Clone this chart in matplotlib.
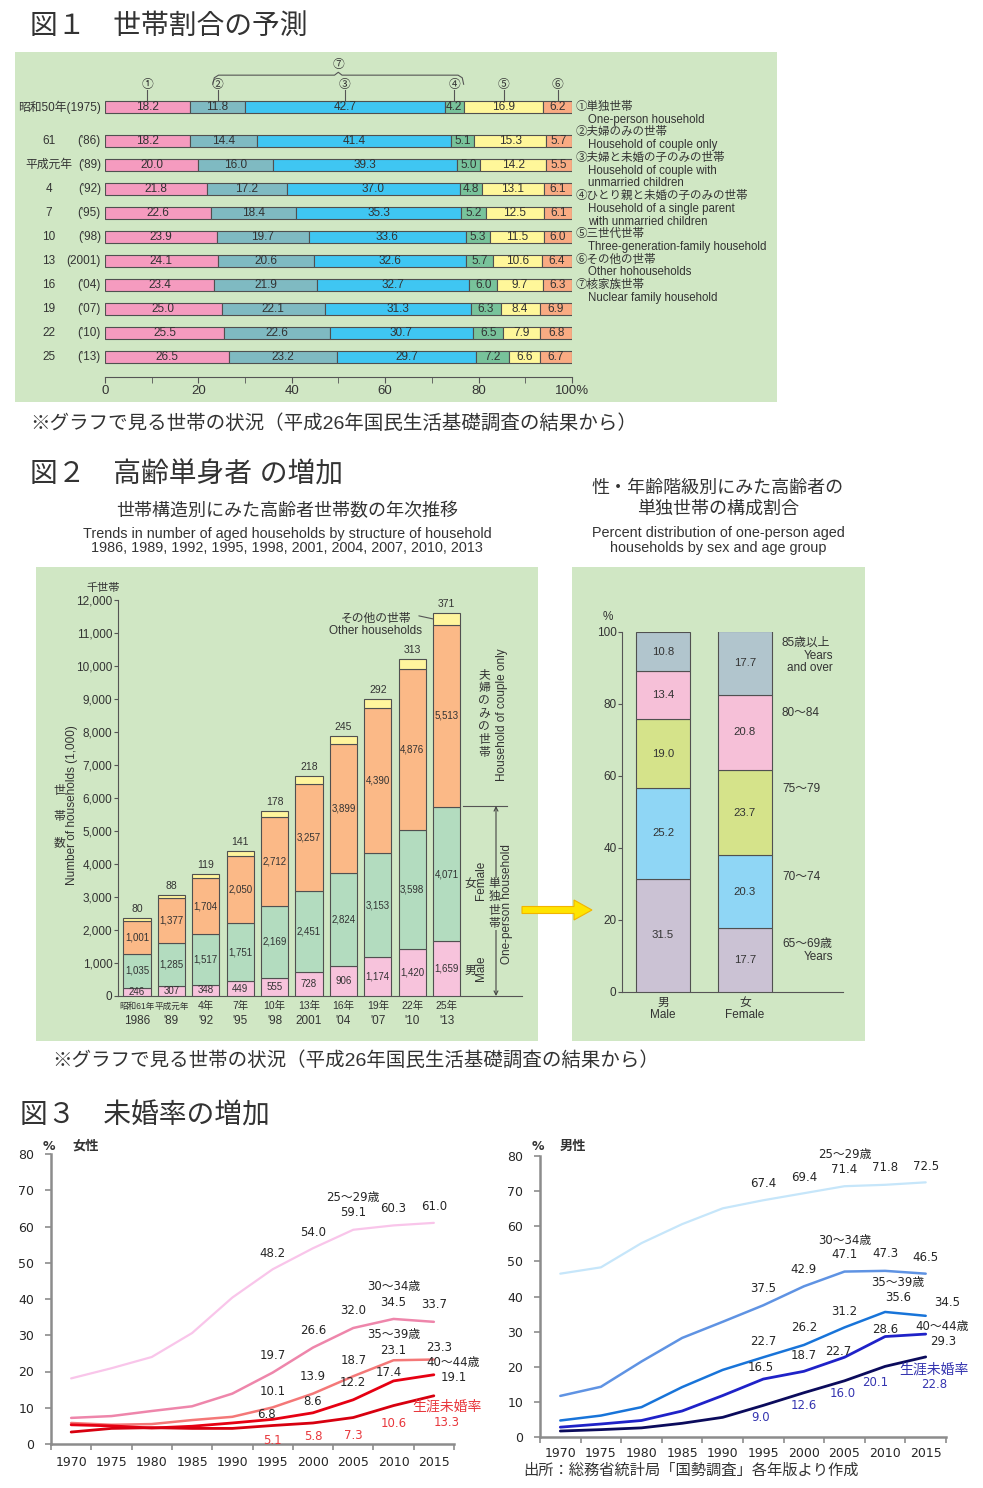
import matplotlib
matplotlib.use('Agg')
import matplotlib.pyplot as plt
import numpy as np
from matplotlib.patches import Rectangle, FancyArrow

plt.rcParams['font.family'] = ['Liberation Sans', 'Noto Sans CJK JP']
plt.rcParams['axes.unicode_minus'] = False

# ===================== DATA =====================
# Fig.1  household composition (%)
f1_era = ['昭和50年', '61', '平成元年', '4', '7', '10', '13', '16', '19', '22', '25']
f1_year = ['(1975)', "('86)", "('89)", "('92)", "('95)", "('98)", '(2001)', "('04)", "('07)", "('10)", "('13)"]
f1_one_person = [18.2, 18.2, 20.0, 21.8, 22.6, 23.9, 24.1, 23.4, 25.0, 25.5, 26.5]
f1_couple_only = [11.8, 14.4, 16.0, 17.2, 18.4, 19.7, 20.6, 21.9, 22.1, 22.6, 23.2]
f1_couple_children = [42.7, 41.4, 39.3, 37.0, 35.3, 33.6, 32.6, 32.7, 31.3, 30.7, 29.7]
f1_single_parent = [4.2, 5.1, 5.0, 4.8, 5.2, 5.3, 5.7, 6.0, 6.3, 6.5, 7.2]
f1_three_gen = [16.9, 15.3, 14.2, 13.1, 12.5, 11.5, 10.6, 9.7, 8.4, 7.9, 6.6]
f1_other = [6.2, 5.7, 5.5, 6.1, 6.1, 6.0, 6.4, 6.3, 6.9, 6.8, 6.7]
f1_marks = ['①', '②', '③', '④', '⑤', '⑥']
f1_legend = ['①単独世帯', 'One-person household',
             '②夫婦のみの世帯', 'Household of couple only',
             '③夫婦と未婚の子のみの世帯', 'Household of couple with', 'unmarried children',
             '④ひとり親と未婚の子のみの世帯', 'Household of a single parent', 'with unmarried children',
             '⑤三世代世帯', 'Three-generation-family household',
             '⑥その他の世帯', 'Other hohouseholds',
             '⑦核家族世帯', 'Nuclear family household']
f1_ticks = [0, 20, 40, 60, 80, 100]
f1_ticklabels = ['0', '20', '40', '60', '80', '100%']

# Fig.2 left  aged households (1,000)
f2_era = ['昭和61年', '平成元年', '4年', '7年', '10年', '13年', '16年', '19年', '22年', '25年']
f2_year = ['1986', "'89", "'92", "'95", "'98", '2001', "'04", "'07", "'10", "'13"]
f2_male = [246, 307, 348, 449, 555, 728, 906, 1174, 1420, 1659]
f2_female = [1035, 1285, 1517, 1751, 2169, 2451, 2824, 3153, 3598, 4071]
f2_couple = [1001, 1377, 1704, 2050, 2712, 3257, 3899, 4390, 4876, 5513]
f2_other = [80, 88, 119, 141, 178, 218, 245, 292, 313, 371]

# Fig.2 right  one-person aged households by sex & age (%)
f2r_sex_jp = ['男', '女']
f2r_sex_en = ['Male', 'Female']
f2r_male = [31.5, 25.2, 19.0, 13.4, 10.8]
f2r_female = [17.7, 20.3, 23.7, 20.8, 17.7]

# Fig.3  unmarried rates (%)
f3_years = [1970, 1975, 1980, 1985, 1990, 1995, 2000, 2005, 2010, 2015]
f3_groups = ['25〜29歳', '30〜34歳', '35〜39歳', '40〜44歳', '生涯未婚率']
f3_f_2529 = [18.1, 20.9, 24.0, 30.6, 40.4, 48.2, 54.0, 59.1, 60.3, 61.0]
f3_f_3034 = [7.2, 7.7, 9.1, 10.4, 13.9, 19.7, 26.6, 32.0, 34.5, 33.7]
f3_f_3539 = [5.8, 5.3, 5.5, 6.6, 7.5, 10.1, 13.9, 18.7, 23.1, 23.3]
f3_f_4044 = [5.3, 5.0, 4.4, 4.9, 5.8, 6.8, 8.6, 12.2, 17.4, 19.1]
f3_f_life = [3.3, 4.3, 4.5, 4.3, 4.3, 5.1, 5.8, 7.3, 10.6, 13.3]
f3_m_2529 = [46.5, 48.3, 55.2, 60.6, 65.1, 67.4, 69.4, 71.4, 71.8, 72.5]
f3_m_3034 = [11.7, 14.3, 21.5, 28.2, 32.8, 37.5, 42.9, 47.1, 47.3, 46.5]
f3_m_3539 = [4.7, 6.1, 8.5, 14.2, 19.1, 22.7, 26.2, 31.2, 35.6, 34.5]
f3_m_4044 = [2.8, 3.7, 4.7, 7.4, 11.8, 16.5, 18.7, 22.7, 28.6, 29.3]
f3_m_life = [1.7, 2.1, 2.6, 3.9, 5.6, 9.0, 12.6, 16.0, 20.1, 22.8]

# ===================== LAYOUT / STYLE =====================
W, H = 983, 1488
TXT = '#333333'
BG = '#d0e7c4'
EDGE = '#505050'

fig = plt.figure(figsize=(W / 100, H / 100), dpi=100)
fig.patch.set_facecolor('white')
ov = fig.add_axes([0, 0, 1, 1], zorder=0)
ov.set_xlim(0, W)
ov.set_ylim(H, 0)
ov.axis('off')


def px_axes(x0, y0, x1, y1):
    ax = fig.add_axes([x0 / W, 1 - y1 / H, (x1 - x0) / W, (y1 - y0) / H], zorder=2)
    ax.set_facecolor('none')
    return ax


def T(x, y, s, **kw):
    kw.setdefault('color', TXT)
    kw.setdefault('va', 'center')
    return ov.text(x, y, s, **kw)


def ann(ax, s, xy, dx, dy, **kw):
    kw.setdefault('color', TXT)
    kw.setdefault('ha', 'center')
    kw.setdefault('va', 'center')
    return ax.annotate(s, xy=xy, xycoords='data', xytext=(dx, -dy),
                       textcoords='offset pixels', annotation_clip=False, **kw)


def vtext(x, y, s, **kw):
    """stacked (vertical) Japanese text"""
    return T(x, y, '\n'.join(s), ha='center', linespacing=1.12, **kw)


# ===================== FIG 1 =====================
T(30, 27, '図１　世帯割合の予測', fontsize=20)
ov.add_patch(Rectangle((15, 52), 762, 350, facecolor=BG, lw=0))
ax1 = px_axes(105, 55, 572, 377)
rows = np.array([0] + [1.42 + i for i in range(10)])
ax1.set_xlim(0, 100)
ax1.set_ylim(11.25, -2.17)
f1_colors = ['#f59bbf', '#7fbac2', '#3fc6f2', '#78c39b', '#fff79a', '#f9ab83']
series1 = [f1_one_person, f1_couple_only, f1_couple_children, f1_single_parent, f1_three_gen, f1_other]
left = np.zeros(len(rows))
centers0 = []
for vals, col in zip(series1, f1_colors):
    vals = np.array(vals)
    ax1.barh(rows, vals, left=left, height=0.5, color=col, edgecolor=EDGE, lw=0.8, zorder=3)
    for r, l, v in zip(rows, left, vals):
        ax1.text(l + v / 2, r, f'{v:.1f}', ha='center', va='center', fontsize=8.5, color=TXT, zorder=4)
    centers0.append(left[0] + vals[0] / 2)
    left = left + vals
for c, m in zip(centers0, f1_marks):
    ax1.text(c, -0.92, m, ha='center', va='center', fontsize=8.5, color=TXT)
    ax1.plot([c, c], [-0.7, -0.25], color='#555555', lw=0.8)
xa, xb = centers0[1] - 1.0, centers0[3] + 2.0
xm = (xa + xb) / 2
ax1.plot([xa, xa + 0.3, xa + 1.2, xm - 0.8, xm, xm + 0.8, xb - 1.2, xb - 0.3, xb],
         [-0.95, -1.22, -1.33, -1.33, -1.45, -1.33, -1.33, -1.22, -0.95], color='#555555', lw=0.8)
ax1.text(xm, -1.75, '⑦', ha='center', va='center', fontsize=8.5, color=TXT)
for s in ['top', 'left', 'right']:
    ax1.spines[s].set_visible(False)
ax1.spines['bottom'].set_color('#555555')
ax1.set_xticks(f1_ticks)
ax1.set_xticklabels(f1_ticklabels)
ax1.set_xticks([10, 30, 50, 70, 90], minor=True)
ax1.tick_params(axis='x', which='both', length=4, color='#555555', labelsize=9.5, labelcolor=TXT, pad=1.5)
ax1.set_yticks([])
for i, r in enumerate(rows):
    if i == 0:
        ann(ax1, f1_era[i] + f1_year[i], (0, r), -4, 0, ha='right', fontsize=8.5)
    else:
        ann(ax1, f1_era[i], (0, r), -56, 0, fontsize=8.5)
        ann(ax1, f1_year[i], (0, r), -4, 0, ha='right', fontsize=8.5)
for i, line in enumerate(f1_legend):
    x = 576 if line[0] in '①②③④⑤⑥⑦' else 588
    T(x, 107 + 12.73 * i, line, fontsize=8.3)
T(30, 423, '※グラフで見る世帯の状況（平成26年国民生活基礎調査の結果から）', fontsize=14)

# ===================== FIG 2 =====================
T(30, 475, '図２　高齢単身者 の増加', fontsize=20)
T(287, 511, '世帯構造別にみた高齢者世帯数の年次推移', fontsize=13, ha='center')
T(287, 534, 'Trends in number of aged households by structure of household', fontsize=10.4, ha='center')
T(287, 548, '1986, 1989, 1992, 1995, 1998, 2001, 2004, 2007, 2010, 2013', fontsize=10.4, ha='center')
T(718, 488, '性・年齢階級別にみた高齢者の', fontsize=13, ha='center')
T(718, 509, '単独世帯の構成割合', fontsize=13, ha='center')
T(718, 533, 'Percent distribution of one-person aged', fontsize=10.4, ha='center')
T(718, 548, 'households by sex and age group', fontsize=10.4, ha='center')
ov.add_patch(Rectangle((36, 567), 502, 474, facecolor=BG, lw=0))
ov.add_patch(Rectangle((572, 567), 293, 474, facecolor=BG, lw=0))

# left chart
ax2 = px_axes(118, 600, 522, 996)
x2 = np.arange(len(f2_male))
ax2.set_xlim((118 - 137) / 34.4, (522 - 137) / 34.4)
ax2.set_ylim(0, 12000)
f2_colors = ['#f7c3dc', '#b3dcbf', '#fbb987', '#fff59d']
bottom = np.zeros(len(x2))
for k, (vals, col) in enumerate(zip([f2_male, f2_female, f2_couple, f2_other], f2_colors)):
    vals = np.array(vals, dtype=float)
    ax2.bar(x2, vals, bottom=bottom, width=0.79, color=col, edgecolor=EDGE, lw=0.8, zorder=3)
    for xi, b, v in zip(x2, bottom, vals):
        if k < 3:
            ax2.text(xi, b + v / 2, f'{int(v):,}', ha='center', va='center', fontsize=7, color=TXT, zorder=4)
        else:
            ann(ax2, f'{int(v):,}', (xi, b + v), 0, -9, fontsize=7.5)
    bottom = bottom + vals
for s in ['top', 'right']:
    ax2.spines[s].set_visible(False)
for s in ['left', 'bottom']:
    ax2.spines[s].set_color('#555555')
ax2.set_yticks(range(0, 12001, 1000))
ax2.set_yticklabels([f'{v:,}' for v in range(0, 12001, 1000)])
ax2.tick_params(axis='y', length=3, color='#555555', labelsize=8.5, labelcolor=TXT, pad=1)
ax2.set_xticks([])
for i, xi in enumerate(x2):
    ann(ax2, f2_era[i], (xi, 0), 0, 10, fontsize=6.2 if i < 2 else 7.5)
    ann(ax2, f2_year[i], (xi, 0), 0, 25, fontsize=8.5)
T(103, 588, '千世帯', fontsize=8, ha='center')
T(72, 805, 'Number of households (1,000)', fontsize=8.5, rotation=90, ha='center')
for ch, yy in zip('世帯数', [791, 817, 843]):
    T(59, yy, ch, fontsize=8.5, ha='center')
# annotations on right
top2013 = bottom[-1]
ann(ax2, 'その他の世帯', (x2[-1], top2013), -71, 6, fontsize=8.5)
ann(ax2, 'Other households', (x2[-1], top2013), -71, 18, fontsize=8.5)
ax2.annotate('', xy=(x2[-1] - 0.4, top2013 - f2_other[-1] / 2), xycoords='data',
             xytext=(-14, 3), textcoords='offset pixels', annotation_clip=False,
             arrowprops=dict(arrowstyle='-', color='#555555', lw=0.8, shrinkA=0, shrinkB=0))
vtext(484, 714, '夫婦のみの世帯', fontsize=8.5)
T(502, 715, 'Household of couple only', fontsize=8.5, rotation=90, ha='center')
ov.plot([463, 507], [806, 806], color='#555555', lw=0.8)
ov.annotate('', xy=(496, 806), xytext=(496, 996),
            arrowprops=dict(arrowstyle='<->', color='#444444', lw=0.8, shrinkA=0, shrinkB=0,
                            mutation_scale=7))
T(470, 884, '女', fontsize=8.5, ha='center')
T(481, 880, 'Female', fontsize=8.5, rotation=90, ha='center')
T(470, 971, '男', fontsize=8.5, ha='center')
T(481, 968, 'Male', fontsize=8.5, rotation=90, ha='center')
vtext(494, 904, '単独世帯', fontsize=8.5, bbox=dict(facecolor=BG, edgecolor='none', pad=0.5))
T(507, 904, 'One-person household', fontsize=8.5, rotation=90, ha='center')

# arrow
ov.add_patch(FancyArrow(522, 910, 52, 0, width=7, head_width=20, head_length=18,
                        length_includes_head=False, facecolor='#ffe400', edgecolor='#f2b400', lw=0.8))

# right chart
ax3 = px_axes(622, 632, 843, 992)
x3 = np.arange(2)
ax3.set_xlim((622 - 663) / 82, (843 - 663) / 82)
ax3.set_ylim(0, 100)
f2r_colors = ['#cbc2d4', '#8fd6f5', '#d5e38a', '#f6c0d8', '#b1c5cd']
b3 = np.zeros(2)
for k in range(5):
    vals = np.array([f2r_male[k], f2r_female[k]])
    ax3.bar(x3, vals, bottom=b3, width=0.67, color=f2r_colors[k], edgecolor=EDGE, lw=0.8, zorder=3)
    for xi, b, v in zip(x3, b3, vals):
        ax3.text(xi, b + v / 2, f'{v:.1f}', ha='center', va='center', fontsize=8.2, color=TXT, zorder=4)
    b3 = b3 + vals
for s in ['top', 'right']:
    ax3.spines[s].set_visible(False)
for s in ['left', 'bottom']:
    ax3.spines[s].set_color('#555555')
ax3.set_yticks(range(0, 101, 20))
ax3.tick_params(axis='y', length=3, color='#555555', labelsize=8.5, labelcolor=TXT, pad=1)
ax3.set_xticks([])
for xi in x3:
    ann(ax3, f2r_sex_jp[xi], (xi, 0), 0, 11, fontsize=8.5)
    ann(ax3, f2r_sex_en[xi], (xi, 0), 0, 23, fontsize=8.5)
T(608, 617, '%', fontsize=8.5, ha='center')
T(782, 643, '85歳以上', fontsize=8.5)
T(833, 656, 'Years', fontsize=8.5, ha='right')
T(833, 668, 'and over', fontsize=8.5, ha='right')
T(782, 713, '80〜84', fontsize=8.5)
T(782, 789, '75〜79', fontsize=8.5)
T(782, 877, '70〜74', fontsize=8.5)
T(782, 944, '65〜69歳', fontsize=8.5)
T(833, 957, 'Years', fontsize=8.5, ha='right')
T(52, 1060, '※グラフで見る世帯の状況（平成26年国民生活基礎調査の結果から）', fontsize=14)

# ===================== FIG 3 =====================
T(20, 1116, '図３　未婚率の増加', fontsize=20)
F3 = ['DejaVu Sans', 'Noto Sans CJK JP']
T3 = '#262626'


def line_panel(rect, series, colors, widths, label_offsets, title_offsets, life_color, pad_x):
    ax = px_axes(*rect)
    ax.set_xlim(1967.5, 2017.5)
    ax.set_ylim(0, 80)
    for vals, c, lw in zip(series, colors, widths):
        ax.plot(f3_years, vals, color=c, lw=lw, solid_capstyle='round', zorder=3)
    for s in ['top', 'right']:
        ax.spines[s].set_visible(False)
    for s in ['left', 'bottom']:
        ax.spines[s].set_color('#8c8c8c')
        ax.spines[s].set_linewidth(1.8)
    ax.set_yticks(range(0, 81, 10))
    ax.set_yticklabels([str(v) for v in range(0, 81, 10)], fontfamily=F3)
    ax.set_xticks(f3_years)
    ax.set_xticklabels([str(y) for y in f3_years], fontfamily=F3)
    ax.set_xticks(np.arange(1967.5, 2018, 5), minor=True)
    ax.tick_params(axis='x', which='major', length=0, labelsize=9, labelcolor=T3, pad=pad_x)
    ax.tick_params(axis='x', which='minor', length=4, width=1.2, color='#8c8c8c')
    ax.tick_params(axis='y', length=4, width=1.2, color='#8c8c8c', labelsize=9, labelcolor=T3, pad=8)
    for si, vals in enumerate(series):
        col = life_color if si == 4 else T3
        for (yi, dx, dy) in label_offsets[si]:
            ann(ax, f'{vals[yi]:.1f}', (f3_years[yi], vals[yi]), dx, dy, fontsize=8.5,
                color=col, fontfamily=F3)
        yi, dx, dy = title_offsets[si]
        ann(ax, f3_groups[si], (f3_years[yi], series[si][yi]), dx, dy,
            fontsize=10 if si == 4 else 8.5, color=col, fontfamily=F3)
    return ax


fem_offsets = [
    [(5, 0, -16), (6, 0, -16), (7, 0, -17), (8, 0, -17), (9, 0, -16)],
    [(5, 0, -17), (6, 0, -17), (7, 0, -17), (8, 0, -16), (9, 0, -17)],
    [(5, 0, -16), (6, 0, -17), (7, 0, -16), (8, 0, -10), (9, 5, -12)],
    [(5, -6, -5), (6, 0, -11), (7, 0, -17), (8, -5, -8), (9, 20, 3)],
    [(5, 0, 15), (6, 0, 14), (7, 0, 18), (8, 0, 18), (9, 13, 27)],
]
fem_titles = [(7, 0, -32), (8, 0, -32), (8, 0, -26), (9, 19, -12), (9, 13, 11)]
line_panel((51, 1154, 454, 1444),
           [f3_f_2529, f3_f_3034, f3_f_3539, f3_f_4044, f3_f_life],
           ['#f9c5ea', '#ee86ab', '#f47878', '#e60012', '#d7000f'],
           [1.6, 1.8, 1.8, 2.0, 2.0], fem_offsets, fem_titles, '#e8383d', 8.5)
T(49, 1146, '%', fontsize=9, ha='center', fontweight='bold', fontfamily=F3)
T(72, 1146, '女性', fontsize=9.5, fontweight='bold')

male_offsets = [
    [(5, 0, -17), (6, 0, -16), (7, 0, -17), (8, 0, -17), (9, 0, -16)],
    [(5, 0, -17), (6, 0, -17), (7, 0, -17), (8, 0, -17), (9, 0, -16)],
    [(5, 0, -16), (6, 0, -17), (7, 0, -16), (8, 13, -14), (9, 21, -13)],
    [(5, -3, -12), (6, 0, -16), (7, -6, -6), (8, 0, -7), (9, 17, 7)],
    [(5, -3, 12), (6, 0, 13), (7, -2, 13), (8, -10, 16), (9, 8, 28)],
]
male_titles = [(7, 0, -32), (7, 0, -31), (8, 13, -29), (9, 16, -8), (9, 8, 13)]
line_panel((540, 1156, 946, 1437),
           [f3_m_2529, f3_m_3034, f3_m_3539, f3_m_4044, f3_m_life],
           ['#c6e6fa', '#5f93e3', '#1874d9', '#1f22c8', '#0b0b5c'],
           [1.6, 1.8, 1.8, 2.0, 2.0], male_offsets, male_titles, '#3535b0', 7.5)
T(538, 1147, '%', fontsize=9, ha='center', fontweight='bold', fontfamily=F3)
T(560, 1147, '男性', fontsize=9.5, fontweight='bold')
T(523, 1471, '出所：総務省統計局「国勢調査」各年版より作成', fontsize=11)

fig.savefig('out.png', dpi=100, facecolor='white')
